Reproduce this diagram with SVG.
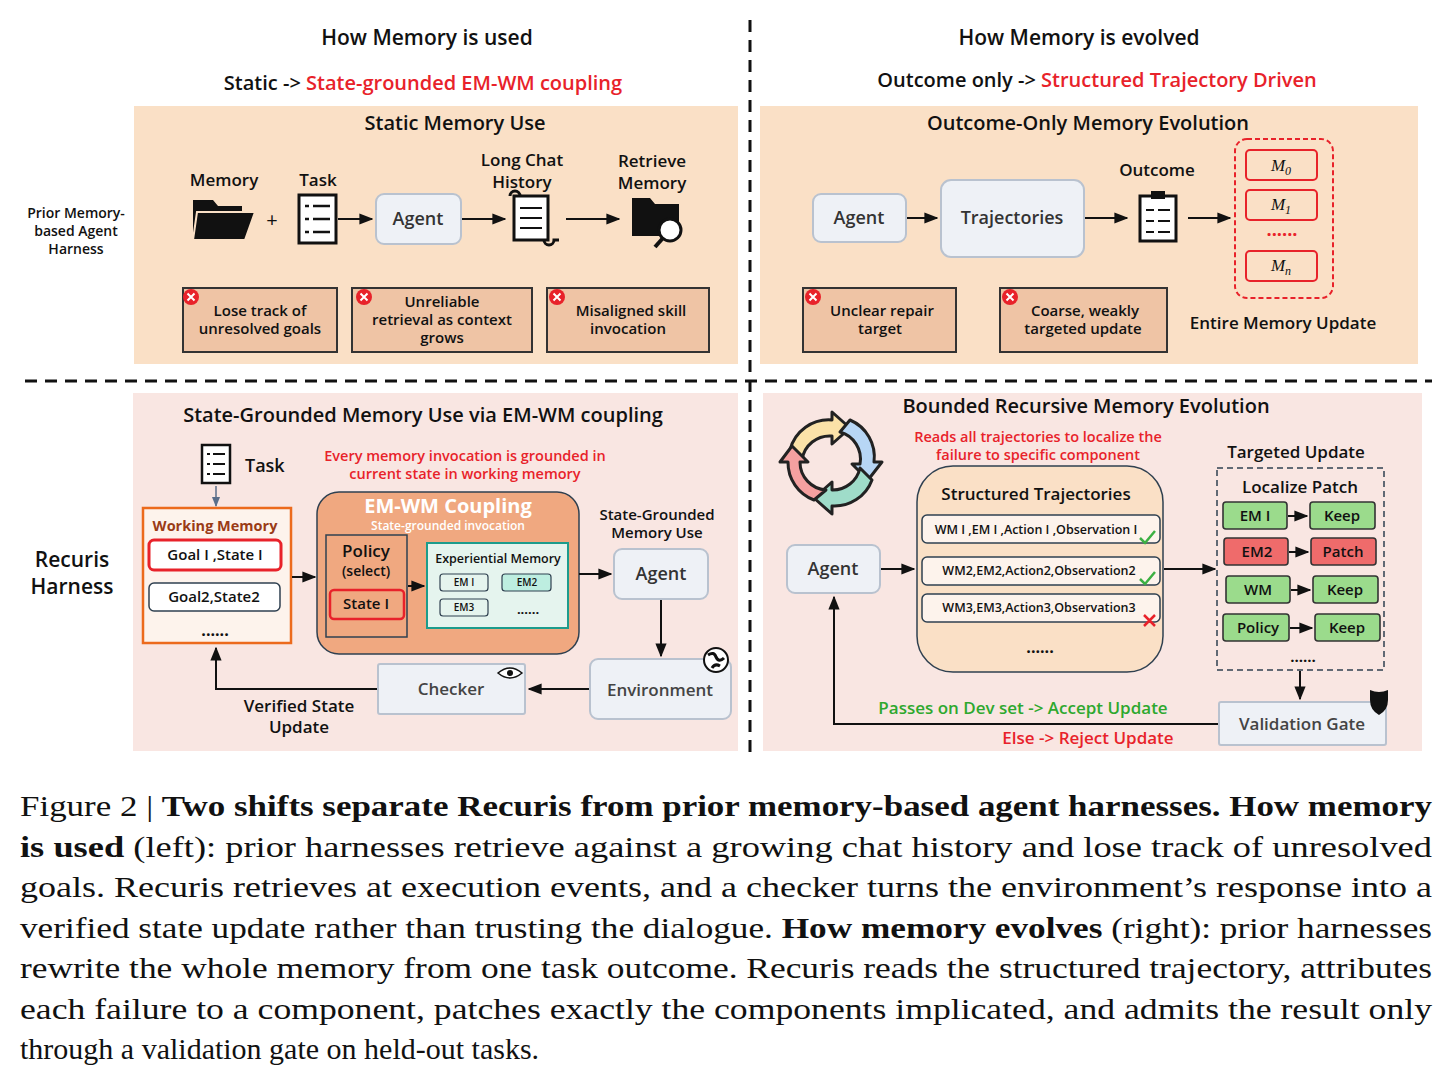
<svg xmlns="http://www.w3.org/2000/svg" width="1450" height="1083" viewBox="0 0 1450 1083">
<defs>
<marker id="ah" viewBox="0 0 10 10" refX="9" refY="5" markerWidth="7" markerHeight="7" orient="auto"><path d="M0,1 L10,5 L0,9 z" fill="#111"/></marker>
<marker id="ahb" viewBox="0 0 10 10" refX="9" refY="5" markerWidth="7" markerHeight="7" orient="auto"><path d="M0,1 L10,5 L0,9 z" fill="#5a6e8a"/></marker>
<style>
text{font-family:"Open Sans","Noto Sans","Liberation Sans",sans-serif;fill:#111}
.t{font-size:20px;font-weight:600}
.s{font-size:17px;font-weight:600}
.r{fill:#e8222a}
.g{fill:#2ea82e}
.c{text-anchor:middle}
.box{fill:#eef1f6;stroke:#b9c2cf;stroke-width:2}
.bad{fill:#efc4a5;stroke:#333;stroke-width:2}
.ln{stroke:#111;stroke-width:2;fill:none}
.cap{font-family:"Liberation Serif",serif;font-size:30px;fill:#111}
.grn{fill:#9bdb8c;stroke:#333;stroke-width:1.6}
.red{fill:#ef6b6b;stroke:#333;stroke-width:1.6}
</style>
<g id="xic"><circle cx="0" cy="0" r="8" fill="#e8222a"/><path d="M-3.5,-3.5 L3.5,3.5 M3.5,-3.5 L-3.5,3.5" stroke="#fff" stroke-width="2"/></g>
</defs>
<rect width="1450" height="1083" fill="#fff"/>
<rect x="134" y="106" width="604" height="258" fill="#fae0c6"/>
<rect x="760" y="106" width="658" height="258" fill="#fae0c6"/>
<rect x="133" y="393" width="605" height="358" fill="#f9e6e2"/>
<rect x="763" y="393" width="659" height="358" fill="#f9e6e2"/>
<line x1="25" y1="381" x2="1432" y2="381" stroke="#111" stroke-width="3" stroke-dasharray="12,8"/>
<line x1="750" y1="20" x2="750" y2="757" stroke="#111" stroke-width="3" stroke-dasharray="12,8"/>
<text x="427" y="45" class="c" style="font-size:21px;font-weight:600">How Memory is used</text>
<text x="423" y="90" class="c" style="font-size:20px;font-weight:600">Static -&gt; <tspan class="r">State-grounded EM-WM coupling</tspan></text>
<text x="1079" y="45" class="c" style="font-size:21px;font-weight:600">How Memory is evolved</text>
<text x="1097" y="87" class="c" style="font-size:20px;font-weight:600">Outcome only -&gt; <tspan class="r">Structured Trajectory Driven</tspan></text>
<text x="76" y="218" class="c" style="font-size:14px;font-weight:600">Prior Memory-</text>
<text x="76" y="236" class="c" style="font-size:14px;font-weight:600">based Agent</text>
<text x="76" y="254" class="c" style="font-size:14px;font-weight:600">Harness</text>
<text x="72" y="567" class="c" style="font-size:21px;font-weight:600">Recuris</text>
<text x="72" y="594" class="c" style="font-size:21px;font-weight:600">Harness</text>
<g id="static">
<text x="455" y="130" class="c t">Static Memory Use</text>
<text x="224" y="186" class="c s">Memory</text>
<text x="318" y="186" class="c s">Task</text>
<text x="522" y="166" class="c s">Long Chat</text>
<text x="522" y="188" class="c s">History</text>
<text x="652" y="167" class="c s">Retrieve</text>
<text x="652" y="189" class="c s">Memory</text>
<path d="M193,200 h20 l5,6 h24 v34 h-49 z" fill="#111"/><path d="M197,212 h58 l-10,28 h-52 z" fill="#111" stroke="#fae0c6" stroke-width="2"/>
<text x="272" y="227" class="c" style="font-size:20px">+</text>
<rect x="299" y="195" width="37" height="48" fill="#fff" stroke="#111" stroke-width="3"/>
<path d="M305,206 h4 M313,206 h17 M305,219 h4 M313,219 h17 M305,232 h4 M313,232 h17" stroke="#111" stroke-width="2.5"/>
<line x1="338" y1="219" x2="372" y2="219" class="ln" marker-end="url(#ah)"/>
<rect x="376" y="194" width="85" height="50" rx="8" class="box"/>
<text x="418" y="225" class="c" style="font-size:18px;font-weight:600;fill:#333">Agent</text>
<line x1="462" y1="219" x2="505" y2="219" class="ln" marker-end="url(#ah)"/>
<path d="M514,196 h34 v44 h-34 z" fill="#fff" stroke="#111" stroke-width="3"/>
<path d="M520,208 h22 M520,218 h22 M520,228 h22" stroke="#111" stroke-width="2"/>
<path d="M510,196 a5,5 0 0 1 10,0 M544,240 a5,5 0 0 0 10,0 h5" stroke="#111" stroke-width="3" fill="none"/>
<line x1="566" y1="219" x2="619" y2="219" class="ln" marker-end="url(#ah)"/>
<path d="M632,198 h18 l5,6 h24 v32 h-47 z" fill="#111"/>
<circle cx="670" cy="230" r="11" fill="#fff" stroke="#111" stroke-width="3"/><line x1="663" y1="238" x2="655" y2="247" stroke="#111" stroke-width="4"/>
<rect x="183" y="288" width="154" height="64" class="bad"/><use href="#xic" x="191" y="297"/>
<text x="260" y="316" class="c" style="font-size:15px;font-weight:600">Lose track of</text>
<text x="260" y="334" class="c" style="font-size:15px;font-weight:600">unresolved goals</text>
<rect x="352" y="288" width="180" height="64" class="bad"/><use href="#xic" x="364" y="297"/>
<text x="442" y="307" class="c" style="font-size:15px;font-weight:600">Unreliable</text>
<text x="442" y="325" class="c" style="font-size:15px;font-weight:600">retrieval as context</text>
<text x="442" y="343" class="c" style="font-size:15px;font-weight:600">grows</text>
<rect x="547" y="288" width="162" height="64" class="bad"/><use href="#xic" x="557" y="297"/>
<text x="631" y="316" class="c" style="font-size:15px;font-weight:600">Misaligned skill</text>
<text x="628" y="334" class="c" style="font-size:15px;font-weight:600">invocation</text>
</g>
<g id="outcome">
<text x="1088" y="130" class="c t">Outcome-Only Memory Evolution</text>
<rect x="813" y="194" width="93" height="48" rx="8" class="box"/>
<text x="859" y="224" class="c" style="font-size:18px;font-weight:600;fill:#333">Agent</text>
<line x1="907" y1="218" x2="937" y2="218" class="ln" marker-end="url(#ah)"/>
<rect x="941" y="180" width="143" height="77" rx="10" class="box"/>
<text x="1012" y="224" class="c" style="font-size:18px;font-weight:600;fill:#333">Trajectories</text>
<line x1="1085" y1="218" x2="1127" y2="218" class="ln" marker-end="url(#ah)"/>
<text x="1157" y="176" class="c s">Outcome</text>
<rect x="1140" y="196" width="36" height="45" fill="#fff" stroke="#111" stroke-width="3"/><rect x="1151" y="191" width="14" height="8" fill="#111"/>
<path d="M1146,210 h8 M1158,210 h12 M1146,221 h8 M1158,221 h12 M1146,232 h8 M1158,232 h12" stroke="#111" stroke-width="2"/>
<line x1="1188" y1="218" x2="1230" y2="218" class="ln" marker-end="url(#ah)"/>
<rect x="1235" y="139" width="98" height="159" rx="12" fill="none" stroke="#e8222a" stroke-width="2" stroke-dasharray="5,3"/>
<rect x="1246" y="150" width="71" height="30" rx="4" fill="#fae0c6" stroke="#e8222a" stroke-width="2"/>
<text x="1281" y="171" class="c" style="font-family:'Liberation Serif',serif;font-style:italic;font-size:17px">M<tspan font-size="12" dy="4">0</tspan></text>
<rect x="1246" y="190" width="71" height="30" rx="4" fill="#fae0c6" stroke="#e8222a" stroke-width="2"/>
<text x="1281" y="210" class="c" style="font-family:'Liberation Serif',serif;font-style:italic;font-size:17px">M<tspan font-size="12" dy="4">1</tspan></text>
<text x="1282" y="236" class="c" style="font-size:18px;font-weight:700;fill:#e8222a">......</text>
<rect x="1246" y="251" width="71" height="30" rx="4" fill="#fae0c6" stroke="#e8222a" stroke-width="2"/>
<text x="1281" y="271" class="c" style="font-family:'Liberation Serif',serif;font-style:italic;font-size:17px">M<tspan font-size="12" dy="4">n</tspan></text>
<rect x="803" y="288" width="153" height="64" class="bad"/><use href="#xic" x="813" y="297"/>
<text x="882" y="316" class="c" style="font-size:15px;font-weight:600">Unclear repair</text>
<text x="880" y="334" class="c" style="font-size:15px;font-weight:600">target</text>
<rect x="1000" y="288" width="167" height="64" class="bad"/><use href="#xic" x="1010" y="297"/>
<text x="1085" y="316" class="c" style="font-size:15px;font-weight:600">Coarse, weakly</text>
<text x="1083" y="334" class="c" style="font-size:15px;font-weight:600">targeted update</text>
<text x="1283" y="329" class="c s">Entire Memory Update</text>
</g>
<g id="stategrounded">
<text x="423" y="422" class="c t">State-Grounded Memory Use via EM-WM coupling</text>
<rect x="202" y="445" width="28" height="38" fill="#fff" stroke="#111" stroke-width="2.5"/>
<path d="M207,454 h3 M213,454 h12 M207,464 h3 M213,464 h12 M207,474 h3 M213,474 h12" stroke="#111" stroke-width="2"/>
<text x="245" y="472" class="s" style="font-size:18px">Task</text>
<line x1="216" y1="486" x2="216" y2="506" stroke="#5a6e8a" stroke-width="1.5" marker-end="url(#ahb)"/>
<text x="465" y="461" class="c r" style="font-size:14.5px;font-weight:600">Every memory invocation is grounded in</text>
<text x="465" y="479" class="c r" style="font-size:14.5px;font-weight:600">current state in working memory</text>
<rect x="143" y="508" width="148" height="135" fill="#fdf3ec" stroke="#ec6a1c" stroke-width="2.5"/>
<text x="215" y="531" class="c" style="font-size:14.5px;font-weight:700;fill:#9a3b16">Working Memory</text>
<rect x="149" y="540" width="132" height="30" rx="5" fill="#fff" stroke="#e8222a" stroke-width="3"/>
<text x="215" y="560" class="c" style="font-size:15px;font-weight:600">Goal I ,State I</text>
<rect x="149" y="583" width="131" height="28" rx="5" fill="#fff" stroke="#2f4050" stroke-width="1.5"/>
<text x="214" y="602" class="c" style="font-size:15px;font-weight:600">Goal2,State2</text>
<text x="215" y="636" class="c" style="font-size:16px;font-weight:700">......</text>
<line x1="292" y1="577" x2="315" y2="577" class="ln" marker-end="url(#ah)"/>
<rect x="317" y="492" width="262" height="162" rx="22" fill="#f0a880" stroke="#2f4050" stroke-width="1.5"/>
<text x="448" y="513" class="c" style="font-size:20px;font-weight:700;fill:#fff">EM-WM Coupling</text>
<text x="448" y="530" class="c" style="font-size:12px;font-weight:600;fill:#fff">State-grounded invocation</text>
<rect x="326" y="535" width="81" height="102" fill="#f0a880" stroke="#2f4050" stroke-width="1.5"/>
<text x="366" y="557" class="c" style="font-size:17px;font-weight:600">Policy</text>
<text x="366" y="576" class="c" style="font-size:14px;font-weight:600">(select)</text>
<rect x="330" y="590" width="74" height="29" rx="4" fill="#f0a880" stroke="#e8222a" stroke-width="2.5"/>
<text x="366" y="609" class="c" style="font-size:15px;font-weight:600">State I</text>
<line x1="408" y1="586" x2="424" y2="586" class="ln" marker-end="url(#ah)"/>
<rect x="427" y="543" width="141" height="85" fill="#e5f4ee" stroke="#1c9c8c" stroke-width="2"/>
<text x="498" y="563" class="c" style="font-size:12.5px;font-weight:600">Experiential Memory</text>
<rect x="440" y="574" width="48" height="17" rx="3" fill="#e5f4ee" stroke="#2f4050" stroke-width="1.2"/>
<text x="464" y="586" class="c" style="font-size:10px;font-weight:600">EM I</text>
<rect x="502" y="574" width="49" height="17" rx="3" fill="#bdeee0" stroke="#2f4050" stroke-width="1.2"/>
<text x="527" y="586" class="c" style="font-size:10px;font-weight:600">EM2</text>
<rect x="440" y="599" width="48" height="17" rx="3" fill="#e5f4ee" stroke="#2f4050" stroke-width="1.2"/>
<text x="464" y="611" class="c" style="font-size:10px;font-weight:600">EM3</text>
<text x="528" y="614" class="c" style="font-size:13px;font-weight:700">......</text>
<text x="657" y="520" class="c" style="font-size:15px;font-weight:600">State-Grounded</text>
<text x="657" y="538" class="c" style="font-size:15px;font-weight:600">Memory Use</text>
<line x1="579" y1="574" x2="611" y2="574" class="ln" marker-end="url(#ah)"/>
<rect x="614" y="549" width="94" height="50" rx="8" class="box"/>
<text x="661" y="580" class="c" style="font-size:18px;font-weight:600;fill:#333">Agent</text>
<line x1="661" y1="600" x2="661" y2="656" class="ln" marker-end="url(#ah)"/>
<rect x="590" y="659" width="141" height="60" rx="8" class="box"/>
<text x="660" y="696" class="c" style="font-size:17px;font-weight:600;fill:#444">Environment</text>
<circle cx="716" cy="660" r="12" fill="#fff" stroke="#111" stroke-width="2"/><path d="M708,655 q6,-4 8,2 q3,6 8,1 M712,668 q3,-5 8,-2" stroke="#111" stroke-width="3" fill="none"/>
<line x1="589" y1="689" x2="529" y2="689" class="ln" marker-end="url(#ah)"/>
<rect x="378" y="664" width="147" height="50" class="box" rx="2"/>
<text x="451" y="695" class="c" style="font-size:17px;font-weight:600;fill:#444">Checker</text>
<path d="M498,673 q12,-10 24,0 q-12,10 -24,0 z" fill="#fff" stroke="#111" stroke-width="1.5"/><circle cx="510" cy="673" r="3" fill="#111"/>
<path d="M377,689 H216 V648" class="ln" marker-end="url(#ah)"/>
<text x="299" y="712" class="c" style="font-size:17px;font-weight:600">Verified State</text>
<text x="299" y="733" class="c" style="font-size:17px;font-weight:600">Update</text>
</g>
<g id="bounded">
<text x="1086" y="413" class="c t">Bounded Recursive Memory Evolution</text>
<g stroke="#222" stroke-width="3" stroke-linejoin="round">
<path d="M790,450 A40,40 0 0 1 832,420 l0,-8 l18,16 l-18,16 l0,-8 A28,28 0 0 0 802,460 z" fill="#fbe2a8"/>
<path d="M850,420 A40,40 0 0 1 874,462 l8,0 l-14,18 l-16,-16 l8,0 A28,28 0 0 0 840,432 z" fill="#b7d6f5"/>
<path d="M872,480 A40,40 0 0 1 832,506 l0,8 l-18,-16 l18,-16 l0,8 A28,28 0 0 0 860,468 z" fill="#9fdcc9"/>
<path d="M814,500 A40,40 0 0 1 788,462 l-8,0 l12,-16 l16,16 l-8,0 A28,28 0 0 0 826,490 z" fill="#f4a0a0"/>
</g>
<text x="1038" y="442" class="c r" style="font-size:14.5px;font-weight:600">Reads all trajectories to localize the</text>
<text x="1038" y="460" class="c r" style="font-size:14.5px;font-weight:600">failure to specific component</text>
<rect x="787" y="545" width="93" height="48" rx="8" class="box"/>
<text x="833" y="575" class="c" style="font-size:18px;font-weight:600;fill:#333">Agent</text>
<line x1="881" y1="569" x2="914" y2="569" class="ln" marker-end="url(#ah)"/>
<rect x="917" y="466" width="246" height="206" rx="36" fill="#fae0c6" stroke="#2f4050" stroke-width="1.5"/>
<text x="1036" y="500" class="c" style="font-size:17px;font-weight:600">Structured Trajectories</text>
<rect x="922" y="515" width="238" height="28" rx="5" fill="#fdf3ec" stroke="#2f4050" stroke-width="1.5"/>
<text x="1036" y="534" class="c" style="font-size:12.5px;font-weight:600">WM I ,EM I ,Action I ,Observation I</text>
<rect x="922" y="557" width="238" height="28" rx="5" fill="#fdf3ec" stroke="#2f4050" stroke-width="1.5"/>
<text x="1039" y="575" class="c" style="font-size:12.5px;font-weight:600">WM2,EM2,Action2,Observation2</text>
<rect x="922" y="594" width="238" height="28" rx="5" fill="#fdf3ec" stroke="#2f4050" stroke-width="1.5"/>
<text x="1039" y="612" class="c" style="font-size:12.5px;font-weight:600">WM3,EM3,Action3,Observation3</text>
<path d="M1140,538 l5,5 l10,-12 M1140,579 l5,5 l10,-12" stroke="#3cb043" stroke-width="2.5" fill="none"/>
<path d="M1144,615 l11,11 M1155,615 l-11,11" stroke="#e8222a" stroke-width="2.5"/>
<text x="1040" y="653" class="c" style="font-size:16px;font-weight:700">......</text>
<line x1="1164" y1="569" x2="1215" y2="569" class="ln" marker-end="url(#ah)"/>
<text x="1296" y="458" class="c s" style="font-size:17px">Targeted Update</text>
<rect x="1217" y="468" width="167" height="202" fill="none" stroke="#2f4050" stroke-width="1.5" stroke-dasharray="6,4"/>
<text x="1300" y="493" class="c" style="font-size:17px;font-weight:600">Localize Patch</text>
<rect x="1223" y="502" width="64" height="27" rx="3" class="grn"/><text x="1255" y="521" class="c" style="font-size:15px;font-weight:600">EM I</text>
<rect x="1310" y="502" width="65" height="27" rx="3" class="grn"/><text x="1342" y="521" class="c" style="font-size:15px;font-weight:600">Keep</text>
<rect x="1224" y="538" width="64" height="27" rx="3" class="red"/><text x="1257" y="557" class="c" style="font-size:15px;font-weight:600">EM2</text>
<rect x="1311" y="538" width="65" height="27" rx="3" class="red"/><text x="1343" y="557" class="c" style="font-size:15px;font-weight:600">Patch</text>
<rect x="1226" y="576" width="64" height="27" rx="3" class="grn"/><text x="1258" y="595" class="c" style="font-size:15px;font-weight:600">WM</text>
<rect x="1313" y="576" width="65" height="27" rx="3" class="grn"/><text x="1345" y="595" class="c" style="font-size:15px;font-weight:600">Keep</text>
<rect x="1223" y="614" width="66" height="27" rx="3" class="grn"/><text x="1258" y="633" class="c" style="font-size:15px;font-weight:600">Policy</text>
<rect x="1315" y="614" width="65" height="27" rx="3" class="grn"/><text x="1347" y="633" class="c" style="font-size:15px;font-weight:600">Keep</text>
<line x1="1288" y1="516" x2="1307" y2="516" class="ln" marker-end="url(#ah)"/>
<line x1="1289" y1="552" x2="1308" y2="552" class="ln" marker-end="url(#ah)"/>
<line x1="1291" y1="590" x2="1310" y2="590" class="ln" marker-end="url(#ah)"/>
<line x1="1290" y1="628" x2="1312" y2="628" class="ln" marker-end="url(#ah)"/>
<text x="1303" y="662" class="c" style="font-size:15px;font-weight:700">......</text>
<line x1="1300" y1="671" x2="1300" y2="699" class="ln" marker-end="url(#ah)"/>
<rect x="1219" y="702" width="167" height="43" class="box" rx="2"/>
<text x="1302" y="730" class="c" style="font-size:17px;font-weight:600;fill:#444">Validation Gate</text>
<path d="M1370,690 q9,4 18,0 v10 q0,10 -9,15 q-9,-5 -9,-15 z" fill="#111"/>
<path d="M1218,724 H834 V597" class="ln" marker-end="url(#ah)"/>
<text x="1023" y="714" class="c g" style="font-size:17px;font-weight:600">Passes on Dev set -&gt; Accept Update</text>
<text x="1088" y="744" class="c r" style="font-size:17px;font-weight:600">Else -&gt; Reject Update</text>
</g>
<g id="caption">
<text x="20" y="816" class="cap" textLength="1412" lengthAdjust="spacingAndGlyphs">Figure 2 | <tspan font-weight="bold">Two shifts separate Recuris from prior memory-based agent harnesses. How memory</tspan></text>
<text x="20" y="857" class="cap" textLength="1412" lengthAdjust="spacingAndGlyphs"><tspan font-weight="bold">is used</tspan> (left): prior harnesses retrieve against a growing chat history and lose track of unresolved</text>
<text x="20" y="897" class="cap" textLength="1412" lengthAdjust="spacingAndGlyphs">goals. Recuris retrieves at execution events, and a checker turns the environment’s response into a</text>
<text x="20" y="938" class="cap" textLength="1412" lengthAdjust="spacingAndGlyphs">verified state update rather than trusting the dialogue. <tspan font-weight="bold">How memory evolves</tspan> (right): prior harnesses</text>
<text x="20" y="978" class="cap" textLength="1412" lengthAdjust="spacingAndGlyphs">rewrite the whole memory from one task outcome. Recuris reads the structured trajectory, attributes</text>
<text x="20" y="1019" class="cap" textLength="1412" lengthAdjust="spacingAndGlyphs">each failure to a component, patches exactly the components implicated, and admits the result only</text>
<text x="20" y="1059" class="cap">through a validation gate on held-out tasks.</text>
</g>
</svg>
